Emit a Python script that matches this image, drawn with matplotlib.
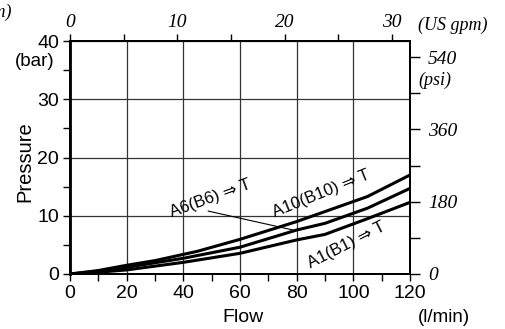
import numpy as np
import matplotlib.pyplot as plt
from matplotlib.ticker import MultipleLocator

# flow (l/min) vs pressure drop (bar)
flow_a10 = [0, 10, 20, 30, 45, 60, 80, 105, 120]
dp_a10 = [0, 0.6, 1.5, 2.3, 3.9, 5.95, 9.0, 13.3, 17.0]

flow_a6 = [0, 10, 20, 40, 60, 80, 90, 105, 120]
dp_a6 = [0, 0.45, 1.15, 2.7, 4.6, 7.55, 8.7, 11.3, 14.7]

flow_a1 = [0, 10, 20, 40, 60, 80, 90, 105, 120]
dp_a1 = [0, 0.3, 0.7, 2.0, 3.55, 5.85, 6.8, 9.5, 12.3]

LPM_PER_GPM = 3.78541
PSI_PER_BAR = 14.5038

serif = ['Liberation Serif', 'DejaVu Serif']
sans = ['Liberation Sans', 'DejaVu Sans']
plt.rcParams['font.family'] = sans

fig = plt.figure(figsize=(5.05, 3.29), dpi=100)
W, H = 505, 329
ax = fig.add_axes([70 / W, 1 - 274 / H, 340 / W, 233 / H])

ax.plot(flow_a10, dp_a10, color='black', lw=2.2, solid_joinstyle='miter')
ax.plot(flow_a6, dp_a6, color='black', lw=2.2, solid_joinstyle='miter')
ax.plot(flow_a1, dp_a1, color='black', lw=2.2, solid_joinstyle='miter')

ax.set_xlim(0, 120)
ax.set_ylim(0, 40)
ax.xaxis.set_major_locator(MultipleLocator(20))
ax.xaxis.set_minor_locator(MultipleLocator(10))
ax.yaxis.set_major_locator(MultipleLocator(10))
ax.yaxis.set_minor_locator(MultipleLocator(5))
ax.grid(True, which='major', color='#333333', lw=0.9)
ax.tick_params(which='both', direction='out', length=5, width=1, labelsize=14, pad=3)
for s in ax.spines.values():
    s.set_linewidth(1.3)
ax.spines['left'].set_linewidth(2)

# labels on curves
ax.text(49.5, 13.0, 'A6(B6) \u21d2 T', rotation=20, fontsize=12, ha='center', va='center')
ax.text(88.5, 13.8, 'A10(B10) \u21d2 T', rotation=22, fontsize=12, ha='center', va='center')
ax.text(97.5, 4.9, 'A1(B1) \u21d2 T', rotation=27, fontsize=12, ha='center', va='center')
ax.plot([48.8, 78.7], [10.8, 7.55], color='black', lw=0.8)

# secondary scales: US gpm on top, psi on right
top = ax.twiny()
top.set_xlim(0, 120 / LPM_PER_GPM)
top.xaxis.set_major_locator(MultipleLocator(10))
top.xaxis.set_minor_locator(MultipleLocator(5))
top.tick_params(which='both', direction='out', length=5, width=1, pad=2)
for lbl in top.get_xticklabels():
    lbl.set_fontfamily(serif)
    lbl.set_fontstyle('italic')
    lbl.set_fontsize(14)

right = ax.twinx()
right.set_ylim(0, 40 * PSI_PER_BAR)
right.yaxis.set_major_locator(MultipleLocator(180))
right.yaxis.set_minor_locator(MultipleLocator(90))
right.tick_params(which='both', direction='out', length=7, width=1, pad=6)
for lbl in right.get_yticklabels():
    lbl.set_fontfamily(serif)
    lbl.set_fontstyle('italic')
    lbl.set_fontsize(14)
for a in (top, right):
    for s in a.spines.values():
        s.set_linewidth(1.3)

# axis titles and units
fig.text(25 / W, 1 - 162 / H, 'Pressure', rotation=90, fontsize=14.5, ha='center', va='center')
fig.text(54 / W, 1 - 62 / H, '(bar)', fontsize=13.5, ha='right', va='center')
fig.text(243 / W, 1 - 318 / H, 'Flow', fontsize=14, ha='center', va='center')
fig.text(444 / W, 1 - 318 / H, '(l/min)', fontsize=13.5, ha='center', va='center')
fig.text(418 / W, 1 - 25 / H, '(US gpm)', fontsize=13, family=serif, style='italic', ha='left', va='center')
fig.text(418 / W, 1 - 80 / H, '(psi)', fontsize=13, family=serif, style='italic', ha='left', va='center')
# partial unit label from the neighbouring chart, cut at the left edge as in the source
fig.text(11 / W, 1 - 12 / H, '(US gpm)', fontsize=13, family=serif, style='italic', ha='right', va='center')

fig.savefig('out.png', dpi=100)
